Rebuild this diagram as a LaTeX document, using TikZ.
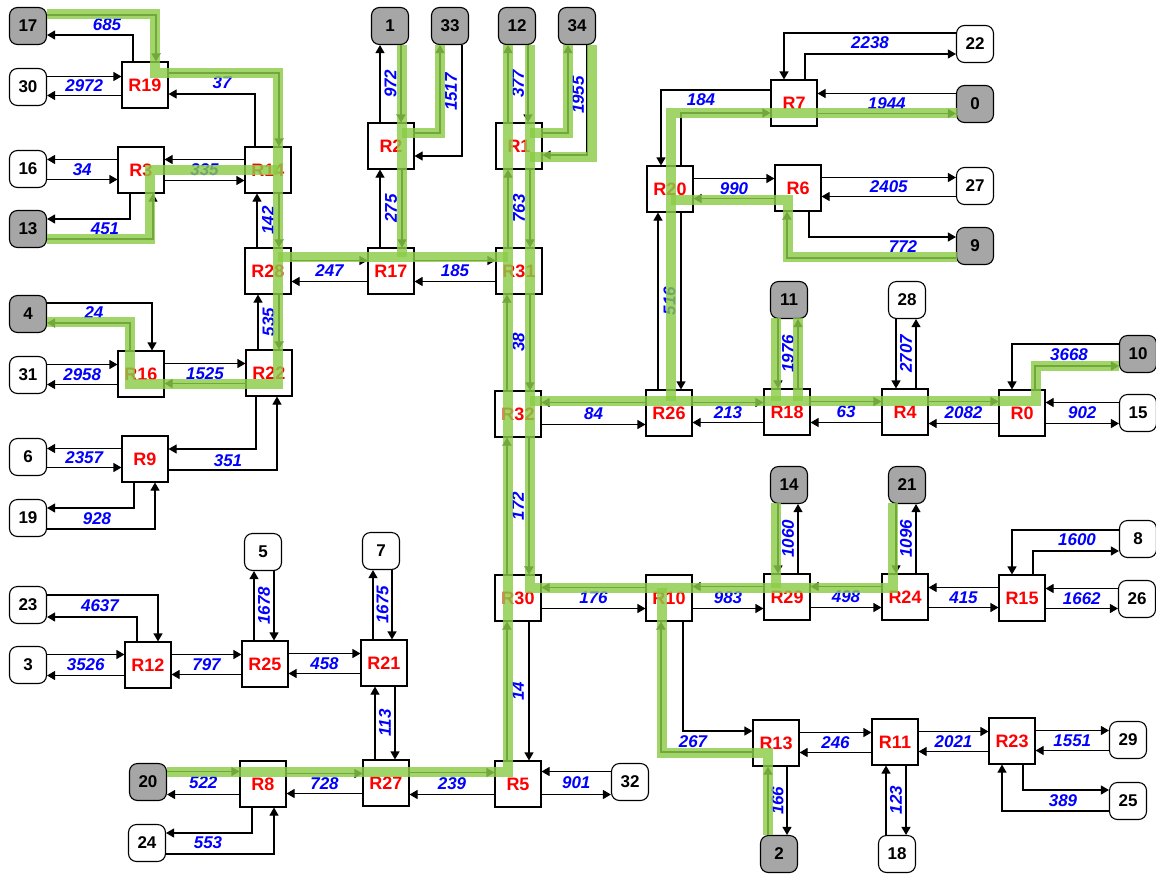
\documentclass[tikz,border=0pt]{standalone}
\usepackage{fontspec}
\setmainfont{Liberation Sans}
\usetikzlibrary{arrows.meta,calc}

\definecolor{hostgrey}{RGB}{166,166,166}
\definecolor{routegreen}{RGB}{140,204,72}

\tikzset{
  router/.style={draw, fill=white, line width=1.1pt, minimum size=46pt, inner sep=0pt,
    text=red, font=\fontsize{18}{18}\selectfont\bfseries},
  host/.style={draw, fill=white, line width=1.1pt, rounded corners=8pt, minimum size=37pt,
    inner sep=0pt, font=\fontsize{17}{17}\selectfont\bfseries},
  hostsel/.style={host, fill=hostgrey},
  link/.style={line width=1.1pt, -{Triangle[length=8pt,width=9pt]}},
  lbl/.style={text=blue, inner sep=0pt, font=\fontsize{17}{17}\selectfont\bfseries\itshape},
  vlbl/.style={lbl, rotate=90},
  route/.style={draw=routegreen, line width=10pt, opacity=0.82},
}

\begin{document}
\begin{tikzpicture}[x=1pt,y=-1pt]
\useasboundingbox (0,0) rectangle (1156,873);

% routers
\foreach \nm/\px/\py in {R19/145/85, R3/141/170, R14/268/170, R28/268/271, R2/391/146,
  R1/519/146, R17/391/271, R31/519/271, R7/794/103, R20/670/189, R6/798/188,
  R16/141/374, R22/269/373, R9/145/459, R32/518/414, R26/669/413, R18/787/412,
  R4/905/412, R0/1022/413, R30/518/598, R10/669/598, R29/787/597, R24/905/597,
  R15/1022/598, R12/148/665, R25/265/664, R21/384/663, R13/776/743, R11/895/742,
  R23/1012/741, R8/263/784, R27/386/783, R5/518/784}
  \node[router] (\nm) at (\px,\py) {\nm};

% hosts on a route
\foreach \nm/\px/\py in {17/28/26, 13/28/229, 4/28/314, 1/390/26, 33/450/26, 12/517/26,
  34/577/26, 0/975/104, 9/975/246, 11/789/300, 10/1138/354, 14/789/485, 21/907/485,
  20/148/782, 2/779/854}
  \node[hostsel] (h\nm) at (\px,\py) {\nm};

% other hosts
\foreach \nm/\px/\py in {30/28/87, 16/28/169, 31/28/375, 6/28/457, 19/28/518, 22/975/44,
  27/975/186, 28/907/300, 15/1138/413, 8/1138/539, 26/1137/599, 5/263/552, 7/381/551,
  23/28/605, 3/28/665, 24/147/843, 32/630/782, 29/1128/740, 25/1128/801, 18/897/854}
  \node[host] (h\nm) at (\px,\py) {\nm};

% side by side, upper line left to right
\foreach \na/\nb/\val in {h30/R19/2972, h31/R16/2958, R16/R22/1525, R28/R17/247,
  R17/R31/185, R26/R18/213, R18/R4/63, R4/R0/2082, R20/R6/990, R6/h27/2405,
  h3/R12/3526, R12/R25/797, R25/R21/458, h20/R8/522, R8/R27/728, R27/R5/239,
  R13/R11/246, R11/R23/2021, R23/h29/1551}{
  \draw[link] ([yshift=10.5pt]\na.east) -- ([yshift=10.5pt]\na.east -| \nb.west);
  \draw[link] ([yshift=-10.5pt]\nb.west) -- ([yshift=-10.5pt]\nb.west -| \na.east);
  \node[lbl] at ($(\na.east)!.5!(\nb.west)$) {\val};
}

% side by side, upper line right to left
\foreach \na/\nb/\val in {h16/R3/34, R3/R14/335, h6/R9/2357, R32/R26/84, R0/h15/902,
  R7/h0/1944, R30/R10/176, R10/R29/983, R29/R24/498, R24/R15/415, R15/h26/1662,
  R5/h32/901}{
  \draw[link] ([yshift=10.5pt]\nb.west) -- ([yshift=10.5pt]\nb.west -| \na.east);
  \draw[link] ([yshift=-10.5pt]\na.east) -- ([yshift=-10.5pt]\na.east -| \nb.west);
  \node[lbl] at ($(\na.east)!.5!(\nb.west)$) {\val};
}

% stacked, left line upwards
\foreach \na/\nb/\val in {h1/R2/972, h12/R1/377, R2/R17/275, R1/R31/763, R14/R28/142,
  R28/R22/535, R31/R32/38, R32/R30/172, R30/R5/14, R20/R26/516, h5/R25/1678,
  h7/R21/1675, R21/R27/113, R11/h18/123, R13/h2/166}{
  \draw[link] ([xshift=-11pt]\nb.north) -- ([xshift=-11pt]\nb.north |- \na.south);
  \draw[link] ([xshift=11pt]\na.south) -- ([xshift=11pt]\na.south |- \nb.north);
  \node[vlbl] at ($(\na.south)!.5!(\nb.north)$) {\val};
}

% stacked, left line downwards
\foreach \na/\nb/\val in {h11/R18/1976, h14/R29/1060, h21/R24/1096, h28/R4/2707}{
  \draw[link] ([xshift=-11pt]\na.south) -- ([xshift=-11pt]\na.south |- \nb.north);
  \draw[link] ([xshift=11pt]\nb.north) -- ([xshift=11pt]\nb.north |- \na.south);
  \node[vlbl] at ($(\na.south)!.5!(\nb.north)$) {\val};
}

% bent links
\draw[link] ([yshift=11pt]h17.east) -| ([xshift=11pt]R19.north);
\draw[link] ([xshift=-12pt]R19.north) |- ([yshift=-9pt]h17.east);
\node[lbl] at (107,25) {685};
\draw[link] ([yshift=12pt]R19.east) -| ([xshift=11pt]R14.north);
\draw[link] ([xshift=-13pt]R14.north) |- ([yshift=-9pt]R19.east);
\node[lbl] at (222,83) {37};
\draw[link] ([xshift=-11pt]R3.south) |- ([yshift=10pt]h13.east);
\draw[link] ([yshift=-10pt]h13.east) -| ([xshift=12pt]R3.south);
\node[lbl] at (105,229) {451};
\draw[link] ([yshift=11pt]h4.east) -| ([xshift=11pt]R16.north);
\draw[link] ([xshift=-11pt]R16.north) |- ([yshift=-9pt]h4.east);
\node[lbl] at (94,313) {24};
\draw[link] ([xshift=-13pt]R22.south) |- ([yshift=10pt]R9.east);
\draw[link] ([yshift=-11pt]R9.east) -| ([xshift=8pt]R22.south);
\node[lbl] at (228,461) {351};
\draw[link] ([xshift=-11pt]R9.south) |- ([yshift=10pt]h19.east);
\draw[link] ([yshift=-11pt]h19.east) -| ([xshift=10pt]R9.south);
\node[lbl] at (97,519) {928};
\draw[link] ([yshift=10pt]h23.east) -| ([xshift=10pt]R12.north);
\draw[link] ([xshift=-11pt]R12.north) |- ([yshift=-12pt]h23.east);
\node[lbl] at (100,606) {4637};
\draw[link] ([xshift=-11pt]R8.south) |- ([yshift=10pt]h24.east);
\draw[link] ([yshift=-11pt]h24.east) -| ([xshift=11pt]R8.south);
\node[lbl] at (208,843) {553};
\draw[link] ([xshift=14pt]R10.south) |- ([yshift=12pt]R13.west);
\draw[link] ([yshift=-9pt]R13.west) -| ([xshift=-8pt]R10.south);
\node[lbl] at (693,742) {267};
\draw[link] ([xshift=11pt]R23.south) |- ([yshift=11pt]h25.west);
\draw[link] ([yshift=-10pt]h25.west) -| ([xshift=-10pt]R23.south);
\node[lbl] at (1063,801) {389};
\draw[link] ([yshift=11pt]h22.west) -| ([xshift=-10pt]R7.north);
\draw[link] ([xshift=11pt]R7.north) |- ([yshift=-10pt]h22.west);
\node[lbl] at (870,43) {2238};
\draw[link] ([yshift=13pt]R7.west) -| ([xshift=-9pt]R20.north);
\draw[link] ([xshift=11pt]R20.north) |- ([yshift=-10pt]R7.west);
\node[lbl] at (701,100) {184};
\draw[link] ([xshift=11pt]R6.south) |- ([yshift=9pt]h9.west);
\draw[link] ([yshift=-12pt]h9.west) -| ([xshift=-11pt]R6.south);
\node[lbl] at (903,247) {772};
\draw[link] ([yshift=10pt]h10.west) -| ([xshift=-10pt]R0.north);
\draw[link] ([xshift=13pt]R0.north) |- ([yshift=-12pt]h10.west);
\node[lbl] at (1069,355) {3668};
\draw[link] ([yshift=9pt]h8.west) -| ([xshift=-10pt]R15.north);
\draw[link] ([xshift=11pt]R15.north) |- ([yshift=-12pt]h8.west);
\node[lbl] at (1077,540) {1600};
\draw[link] ([yshift=13pt]R1.east) -| ([xshift=-9pt]h34.south);
\draw[link] ([xshift=10pt]h34.south) |- ([yshift=-9pt]R1.east);
\node[vlbl] at (578,95) {1955};
\draw[link] ([yshift=13pt]R2.east) -| ([xshift=-10pt]h33.south);
\draw[link] ([xshift=12pt]h33.south) |- ([yshift=-10pt]R2.east);
\node[vlbl] at (451,92) {1517};

% highlighted routes
\draw[route] (47,14) -- (155,14) -- (155,73) -- (278,73) -- (278,384) -- (130,384) -- (130,322) -- (47,322);
\draw[route] (47,239) -- (150,239) -- (150,170) -- (278,170);
\draw[route] (278,257) -- (508,257);
\draw[route] (402,45) -- (402,257);
\draw[route] (402,133) -- (440,133) -- (440,45);
\draw[route] (508,45) -- (508,772) -- (167,772);
\draw[route] (530,45) -- (530,588) -- (893,588) -- (893,503);
\draw[route] (530,133) -- (568,133) -- (568,45);
\draw[route] (592,45) -- (592,157) -- (530,157);
\draw[route] (530,401) -- (1036,401) -- (1036,366) -- (1119,366);
\draw[route] (671,401) -- (671,113) -- (957,113);
\draw[route] (957,257) -- (788,257) -- (788,200) -- (671,200);
\draw[route] (776,318) -- (776,401);
\draw[route] (798,318) -- (798,401);
\draw[route] (776,503) -- (776,588);
\draw[route] (662,588) -- (662,753) -- (768,753) -- (768,835);
\end{tikzpicture}
\end{document}
